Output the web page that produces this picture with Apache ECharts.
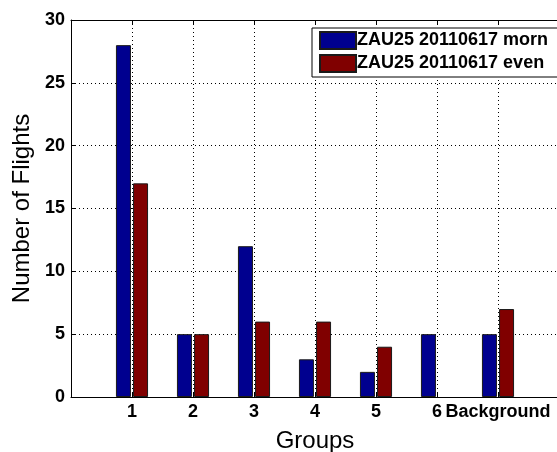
<!DOCTYPE html>
<html>
<head>
<meta charset="utf-8">
<script src="https://cdn.jsdelivr.net/npm/echarts@6/dist/echarts.min.js"></script>
<style>
html,body{margin:0;padding:0;background:#fff;}
#chart{width:557px;height:452px;}
</style>
</head>
<body>
<div id="chart"></div>
<script>
var categories = ['1', '2', '3', '4', '5', '6', 'Background'];
var mornValues = [28, 5, 12, 3, 2, 5, 5];
var evenValues = [17, 5, 6, 6, 4, 0, 7];
var seriesNames = ['ZAU25 20110617 morn', 'ZAU25 20110617 even'];
var yTicks = [0, 5, 10, 15, 20, 25, 30];

var FONT = '"Liberation Sans", Arial, Helvetica, sans-serif';
function toPairs(vals) {
  return vals.map(function (v, i) { return [i + 1, v === 0 ? null : v]; });
}

var chart = echarts.init(document.getElementById('chart'), null, {renderer: 'canvas'});
var gridLine = {show: true, showMinLine: false, showMaxLine: false, lineStyle: {color: '#000', width: 1, type: [1, 3]}};
chart.setOption({
  animation: false,
  backgroundColor: '#fff',
  grid: {left: 71, top: 20, width: 488, height: 377, containLabel: false, outerBoundsMode: 'none'},
  legend: {
    orient: 'vertical',
    left: 312, top: 28,
    padding: [3, 10, 4, 7],
    itemGap: 4,
    itemWidth: 36, itemHeight: 17,
    icon: 'rect',
    borderColor: '#000', borderWidth: 1,
    backgroundColor: '#fff',
    textStyle: {fontFamily: FONT, fontSize: 18, fontWeight: 'bold', color: '#000', padding: [0, 0, 0, -4]},
    data: seriesNames
  },
  xAxis: [{
    type: 'value', min: 0, max: 8, interval: 1,
    name: 'Groups', nameLocation: 'middle', nameGap: 32,
    nameTextStyle: {fontFamily: FONT, fontSize: 24, color: '#000'},
    axisLine: {show: true, onZero: false, lineStyle: {color: '#000', width: 1}},
    axisTick: {show: true, inside: true, length: 5, lineStyle: {color: '#000'}},
    axisLabel: {
      fontFamily: FONT, fontSize: 18, fontWeight: 'bold', color: '#000', margin: 6,
      formatter: function (v) { return (v >= 1 && v <= categories.length) ? categories[v - 1] : ''; }
    },
    splitLine: gridLine
  }, {
    type: 'value', position: 'top', min: 0, max: 8, interval: 1,
    axisLine: {show: true, onZero: false, lineStyle: {color: '#000', width: 1}},
    axisTick: {show: true, inside: true, length: 5, lineStyle: {color: '#000'}},
    axisLabel: {show: false},
    splitLine: {show: false}
  }],
  yAxis: {
    type: 'value', min: 0, max: 30, interval: 5,
    name: 'Number of Flights', nameLocation: 'middle', nameGap: 35,
    nameTextStyle: {fontFamily: FONT, fontSize: 24, color: '#000'},
    axisLine: {show: true, onZero: false, lineStyle: {color: '#000', width: 1}},
    axisTick: {show: true, inside: true, length: 5, lineStyle: {color: '#000'}},
    axisLabel: {
      fontFamily: FONT, fontSize: 18, fontWeight: 'bold', color: '#000', margin: 6,
      formatter: function (v) { return yTicks.indexOf(v) >= 0 ? String(v) : ''; }
    },
    splitLine: gridLine
  },
  series: [{
    name: seriesNames[0], type: 'bar', xAxisIndex: 0,
    data: toPairs(mornValues),
    barWidth: 15, barGap: '14%',
    itemStyle: {color: '#00008F', borderColor: '#1a1a1a', borderWidth: 1}
  }, {
    name: seriesNames[1], type: 'bar', xAxisIndex: 0,
    data: toPairs(evenValues),
    barWidth: 15, barGap: '14%',
    itemStyle: {color: '#800000', borderColor: '#1a1a1a', borderWidth: 1}
  }]
});
</script>
</body>
</html>
